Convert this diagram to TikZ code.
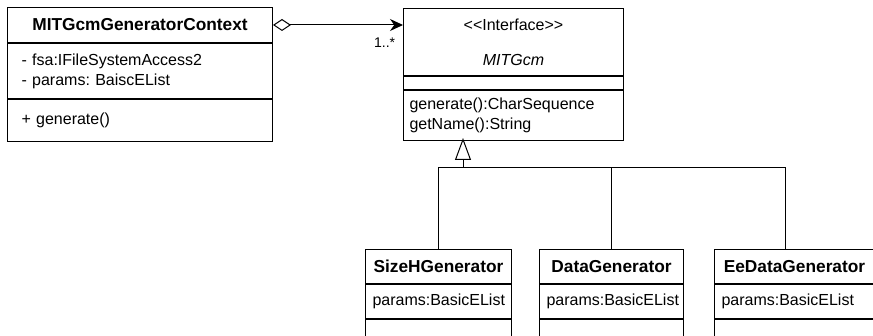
\documentclass[tikz,border=0pt]{standalone}
\usepackage{fontspec}
\setmainfont{Liberation Sans}
\usetikzlibrary{arrows.meta}
\begin{document}
\frenchspacing
\begin{tikzpicture}
  [x=1pt,y=-1pt,line width=1pt,
   part/.style 2 args={draw,rectangle,anchor=north west,inner xsep=0pt,inner ysep=0pt,
     minimum width=#1,minimum height=#2,font=\fontsize{16}{20}\selectfont},
   head/.style={font=\fontsize{17.3}{20}\selectfont\bfseries},
   lefttext/.style 2 args={align=left,text width=#1,inner xsep=#2}]
\useasboundingbox (0,0) rectangle (873,336);
\clip (0,0) rectangle (873,336);

\node (ctxhead)[part={265pt}{35pt},head] at (7,7) {MITGcmGeneratorContext};
  \node (ctxattr)[part={265pt}{55pt},lefttext={237pt}{14pt}] at (ctxhead.south west)
    {- fsa:IFileSystemAccess2\\- params: BaiscEList};
  \node (ctxops)[part={265pt}{42pt},lefttext={237pt}{14pt}] at (ctxattr.south west) {+ generate()};

\node (ifhead)[part={220pt}{67pt},align=center] at (403,8)
  {<\kern0pt<Interface>\kern0pt>\\[15pt]\textit{MITGcm}};
  \node (ifattr)[part={220pt}{13pt}] at (ifhead.south west) {};
  \node (ifops)[part={220pt}{50pt},lefttext={208pt}{6pt}] at (ifattr.south west)
    {generate():CharSequence\\getName():String};

\node (sizeh)[part={146pt}{34pt},head] at (365,249) {SizeHGenerator};
  \node (sizehattr)[part={146pt}{34pt},lefttext={132pt}{7pt}] at (sizeh.south west) {params:BasicEList};
  \node (sizehops)[part={146pt}{45pt}] at (sizehattr.south west) {};
\node (data)[part={144pt}{34pt},head] at (539,249) {DataGenerator};
  \node (dataattr)[part={144pt}{34pt},lefttext={130pt}{7pt}] at (data.south west) {params:BasicEList};
  \node (dataops)[part={144pt}{45pt}] at (dataattr.south west) {};
\node (eedata)[part={160pt}{34pt},head] at (714,249) {EeDataGenerator};
  \node (eedataattr)[part={160pt}{34pt},lefttext={146pt}{7pt}] at (eedata.south west) {params:BasicEList};
  \node (eedataops)[part={160pt}{45pt}] at (eedataattr.south west) {};

 \coordinate (gen) at (463,138);
 \coordinate (hub) at (463,168);
 \coordinate (eetop) at (785,249);

 \draw[{Diamond[open,length=18pt,width=12pt]}-{Stealth[length=13pt,width=12pt]}]
   (ctxhead.east) -- (ctxhead.east -| ifhead.west)
   node[pos=1,anchor=north east,xshift=-4pt,yshift=-9pt,font=\fontsize{14}{16}\selectfont] {1..*};
 \draw (sizeh.north) |- (eetop |- hub) -- (eetop);
 \draw (data.north) -- (data.north |- hub);
 \draw[-{Triangle[open,length=22pt,width=16pt]}] (hub) -- (gen);

\end{tikzpicture}
\end{document}
